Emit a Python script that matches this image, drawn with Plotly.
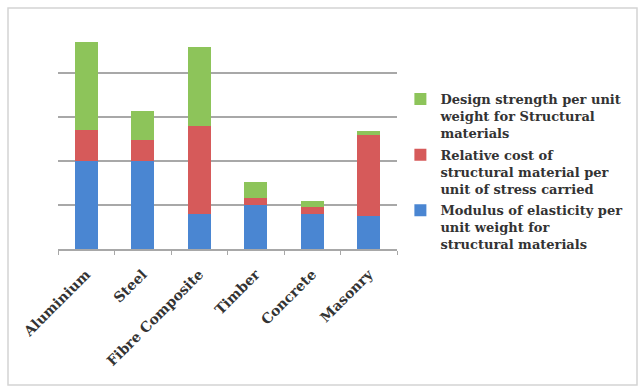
import plotly.graph_objects as go

materials = ["Aluminium", "Steel", "Fibre Composite", "Timber", "Concrete", "Masonry"]

modulus_per_weight = [2.0, 2.0, 0.8, 1.0, 0.8, 0.75]
relative_cost = [0.7, 0.47, 2.0, 0.15, 0.15, 1.85]
design_strength = [2.0, 0.66, 1.8, 0.38, 0.15, 0.08]

series = [
    ("Modulus of elasticity per<br>unit weight for<br>structural materials", modulus_per_weight, "#4A86D2", 3),
    ("Relative cost of<br>structural material per<br>unit of stress carried", relative_cost, "#D65A5A", 2),
    ("Design strength per unit<br>weight for Structural<br>materials", design_strength, "#8DC45A", 1),
]

fig = go.Figure()
for name, vals, color, rank in series:
    fig.add_trace(go.Bar(
        x=materials, y=vals, name=name, legendgroup=name, legendrank=rank,
        marker=dict(color=color, line=dict(width=0)),
        width=0.4,
    ))

serif = "DejaVu Serif"

fig.update_layout(
    barmode="stack",
    width=641, height=388,
    margin=dict(l=58, r=244, t=29, b=139),
    paper_bgcolor="white",
    plot_bgcolor="white",
    showlegend=True,
    legend=dict(
        traceorder="grouped",
        tracegroupgap=2,
        x=1.01, xanchor="left",
        y=0.75, yanchor="top",
        valign="top",
        font=dict(family=serif, size=13, color="#333333", weight="bold"),
        bgcolor="rgba(0,0,0,0)",
    ),
    xaxis=dict(
        type="category",
        tickangle=-45,
        tickfont=dict(family=serif, size=14, color="#333333", weight="bold"),
        ticklabelstandoff=10,
        showline=True, linecolor="#a8a8a8", linewidth=1.5,
        ticks="outside", tickson="boundaries", ticklen=4,
        tickcolor="#a8a8a8", tickwidth=1,
        showgrid=False,
    ),
    yaxis=dict(
        range=[0, 5],
        dtick=1,
        showticklabels=False,
        showgrid=True, gridcolor="#a8a8a8", gridwidth=1.5,
        zeroline=False,
        showline=False,
        ticks="",
    ),
    shapes=[
        dict(type="rect", xref="paper", yref="paper",
             x0=-50 / 339, x1=(637 - 58) / 339,
             y0=-(385 - 249) / 220, y1=(249 - 8) / 220,
             line=dict(color="#d4d4d4", width=1.5), fillcolor="rgba(0,0,0,0)",
             layer="below"),
    ],
)

fig.write_html("out.html")
